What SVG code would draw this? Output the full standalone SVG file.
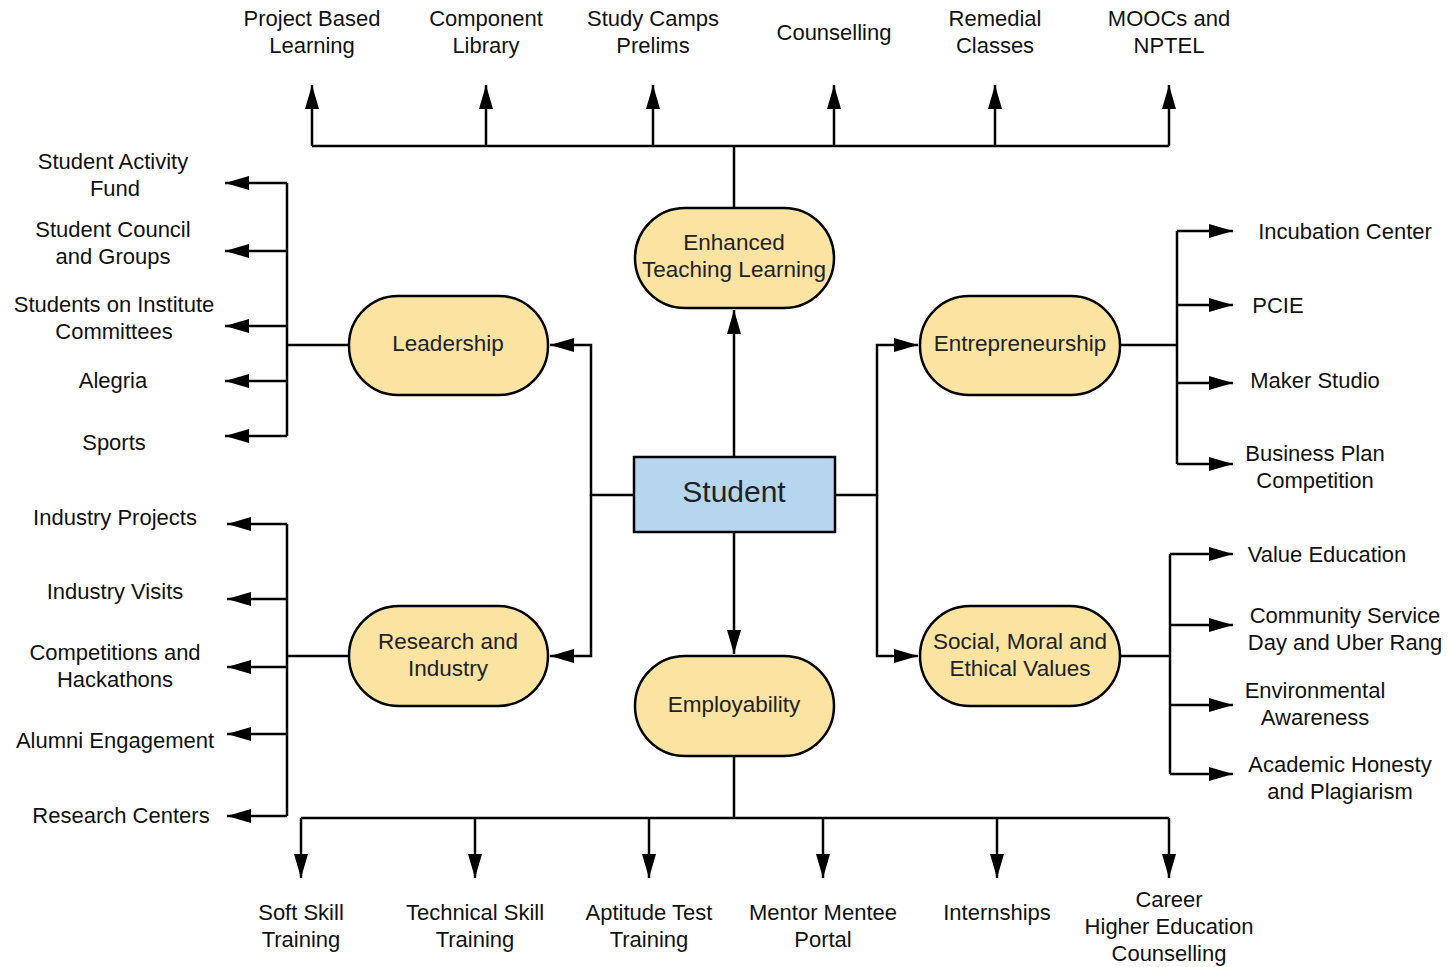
<svg xmlns="http://www.w3.org/2000/svg" width="1449" height="967" viewBox="0 0 1449 967">
<defs>
<marker id="ah" viewBox="0 0 10 10" refX="10" refY="5" markerWidth="24" markerHeight="14" markerUnits="userSpaceOnUse" orient="auto" preserveAspectRatio="none"><path d="M0,0 L10,5 L0,10 z" fill="#000"/></marker>
<style>
.c{fill:none;stroke:#000;stroke-width:2.5}
.a{marker-end:url(#ah)}
.n{fill:#fbe3a2;stroke:#000;stroke-width:2.5}
.s{fill:#b6d6ef;stroke:#000;stroke-width:2.5}
.t{font-family:"Liberation Sans",Arial,sans-serif;font-size:22px;fill:#111;text-anchor:middle}
.nt{font-family:"Liberation Sans",Arial,sans-serif;font-size:22.5px;fill:#222;text-anchor:middle}
</style>
</defs>
<rect width="1449" height="967" fill="#fff"/>
<g id="connectors">
<path class="c a" d="M734,457 V310"/>
<path class="c a" d="M734,532 V654"/>
<path class="c" d="M734,208 V146 M312,146 H1169"/>
<path class="c a" d="M312,146 V85"/>
<path class="c a" d="M486,146 V85"/>
<path class="c a" d="M653,146 V85"/>
<path class="c a" d="M834,146 V85"/>
<path class="c a" d="M995,146 V85"/>
<path class="c a" d="M1169,146 V85"/>
<path class="c a" d="M634,495 H591 V345 H550"/>
<path class="c a" d="M591,495 V656 H550"/>
<path class="c a" d="M835,495 H877 V345 H918"/>
<path class="c a" d="M877,495 V656 H918"/>
<path class="c" d="M734,756 V818 M301,818 H1169"/>
<path class="c a" d="M301,818 V878"/>
<path class="c a" d="M475,818 V878"/>
<path class="c a" d="M649,818 V878"/>
<path class="c a" d="M823,818 V878"/>
<path class="c a" d="M997,818 V878"/>
<path class="c a" d="M1169,818 V878"/>
<path class="c" d="M349,345 H287 M287,183 V436"/>
<path class="c a" d="M287,183 H225"/>
<path class="c a" d="M287,251 H225"/>
<path class="c a" d="M287,326 H225"/>
<path class="c a" d="M287,381 H225"/>
<path class="c a" d="M287,436 H225"/>
<path class="c" d="M349,656 H287 M287,524 V816"/>
<path class="c a" d="M287,524 H227"/>
<path class="c a" d="M287,599 H227"/>
<path class="c a" d="M287,667 H227"/>
<path class="c a" d="M287,734 H227"/>
<path class="c a" d="M287,816 H227"/>
<path class="c" d="M1120,345 H1177 M1177,231 V464"/>
<path class="c a" d="M1177,231 H1233"/>
<path class="c a" d="M1177,305 H1233"/>
<path class="c a" d="M1177,383 H1233"/>
<path class="c a" d="M1177,464 H1233"/>
<path class="c" d="M1120,656 H1170 M1170,554 V774"/>
<path class="c a" d="M1170,554 H1233"/>
<path class="c a" d="M1170,625 H1233"/>
<path class="c a" d="M1170,705 H1233"/>
<path class="c a" d="M1170,774 H1233"/>
</g>
<g id="student"><rect class="s" x="634" y="457" width="201" height="75"/><text class="nt" x="734" y="502" style="font-size:30px">Student</text></g>
<g id="enhanced"><rect class="n" x="635" y="208" width="199" height="100" rx="50"/><text class="nt" x="734" y="250">Enhanced</text><text class="nt" x="734" y="277">Teaching Learning</text></g>
<g id="leadership"><rect class="n" x="349" y="296" width="199" height="99" rx="49"/><text class="nt" x="448" y="351">Leadership</text></g>
<g id="entrepreneurship"><rect class="n" x="920" y="296" width="200" height="99" rx="49"/><text class="nt" x="1020" y="351">Entrepreneurship</text></g>
<g id="research"><rect class="n" x="349" y="606" width="199" height="100" rx="50"/><text class="nt" x="448" y="649">Research and</text><text class="nt" x="448" y="676">Industry</text></g>
<g id="social"><rect class="n" x="920" y="606" width="200" height="100" rx="50"/><text class="nt" x="1020" y="649">Social, Moral and</text><text class="nt" x="1020" y="676">Ethical Values</text></g>
<g id="employability"><rect class="n" x="635" y="656" width="199" height="100" rx="50"/><text class="nt" x="734" y="712">Employability</text></g>
<g id="top-labels">
<text class="t" x="312" y="26">Project Based</text><text class="t" x="312" y="53">Learning</text>
<text class="t" x="486" y="26">Component</text><text class="t" x="486" y="53">Library</text>
<text class="t" x="653" y="26">Study Camps</text><text class="t" x="653" y="53">Prelims</text>
<text class="t" x="834" y="40">Counselling</text>
<text class="t" x="995" y="26">Remedial</text><text class="t" x="995" y="53">Classes</text>
<text class="t" x="1169" y="26">MOOCs and</text><text class="t" x="1169" y="53">NPTEL</text>
</g>
<g id="left-labels">
<text class="t" x="113" y="169">Student Activity</text><text class="t" x="115" y="196">Fund</text>
<text class="t" x="113" y="237">Student Council</text><text class="t" x="113" y="264">and Groups</text>
<text class="t" x="114" y="312">Students on Institute</text><text class="t" x="114" y="339">Committees</text>
<text class="t" x="113" y="388">Alegria</text>
<text class="t" x="114" y="450">Sports</text>
<text class="t" x="115" y="525">Industry Projects</text>
<text class="t" x="115" y="599">Industry Visits</text>
<text class="t" x="115" y="660">Competitions and</text><text class="t" x="115" y="687">Hackathons</text>
<text class="t" x="115" y="748">Alumni Engagement</text>
<text class="t" x="121" y="823">Research Centers</text>
</g>
<g id="right-labels">
<text class="t" x="1345" y="239">Incubation Center</text>
<text class="t" x="1278" y="313">PCIE</text>
<text class="t" x="1315" y="388">Maker Studio</text>
<text class="t" x="1315" y="461">Business Plan</text><text class="t" x="1315" y="488">Competition</text>
<text class="t" x="1327" y="562">Value Education</text>
<text class="t" x="1345" y="623">Community Service</text><text class="t" x="1345" y="650">Day and Uber Rang</text>
<text class="t" x="1315" y="698">Environmental</text><text class="t" x="1315" y="725">Awareness</text>
<text class="t" x="1340" y="772">Academic Honesty</text><text class="t" x="1340" y="799">and Plagiarism</text>
</g>
<g id="bottom-labels">
<text class="t" x="301" y="920">Soft Skill</text><text class="t" x="301" y="947">Training</text>
<text class="t" x="475" y="920">Technical Skill</text><text class="t" x="475" y="947">Training</text>
<text class="t" x="649" y="920">Aptitude Test</text><text class="t" x="649" y="947">Training</text>
<text class="t" x="823" y="920">Mentor Mentee</text><text class="t" x="823" y="947">Portal</text>
<text class="t" x="997" y="920">Internships</text>
<text class="t" x="1169" y="907">Career</text><text class="t" x="1169" y="934">Higher Education</text><text class="t" x="1169" y="961">Counselling</text>
</g>
</svg>
